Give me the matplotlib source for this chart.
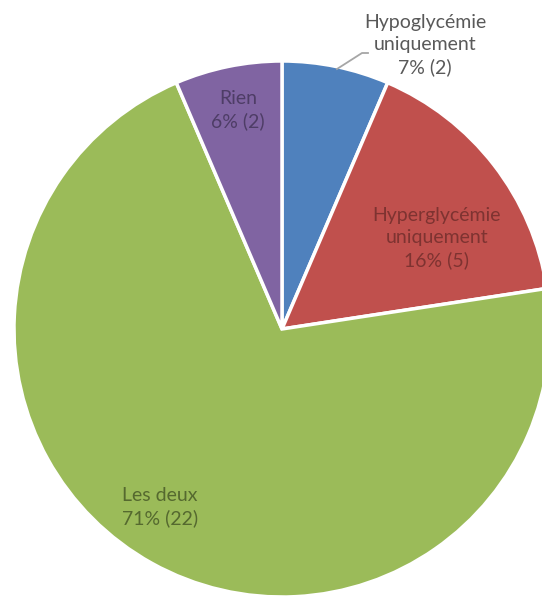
import matplotlib
matplotlib.use("Agg")
import matplotlib.pyplot as plt

categories = ["Hypoglycémie\nuniquement", "Hyperglycémie\nuniquement", "Les deux", "Rien"]
counts = [2, 5, 22, 2]
percent_labels = ["7%", "16%", "71%", "6%"]
colors = ["#4F81BD", "#C0504D", "#9BBB59", "#8064A2"]
text_colors = ["#595959", "#7E3331", "#55692F", "#4E3D66"]

W, H = 542, 596
fig = plt.figure(figsize=(W / 100, H / 100), dpi=100)
ax = fig.add_axes([0, 0, 1, 1])

cx, cy, r = 282, H - 329, 268
wedges, _ = ax.pie(counts, colors=colors, startangle=90, counterclock=False,
                   center=(cx, cy), radius=r, frame=True,
                   wedgeprops=dict(edgecolor="white", linewidth=2.5))
ax.set_xlim(0, W)
ax.set_ylim(0, H)
ax.set_aspect("equal")
ax.axis("off")

# label positions in pixel coords (top origin)
pos = [(425, 45), (437, 238), (158, 507), (238, 110)]
font = ["Lato", "DejaVu Sans"]
for i, (x, y) in enumerate(pos):
    txt = f"{categories[i]}\n{percent_labels[i]} ({counts[i]})"
    ha = "left" if i == 2 else "center"
    xx = 122 if i == 2 else x
    ax.text(xx, H - y, txt, ha=ha, va="center", fontsize=14,
            family=font, color=text_colors[i], linespacing=1.38,
            multialignment="left" if i == 2 else "center")

# leader line for the first label
ax.plot([337, 362, 368], [H - 69, H - 53, H - 53], color="#A6A6A6", lw=1.3)

fig.savefig("out.png", dpi=100)
